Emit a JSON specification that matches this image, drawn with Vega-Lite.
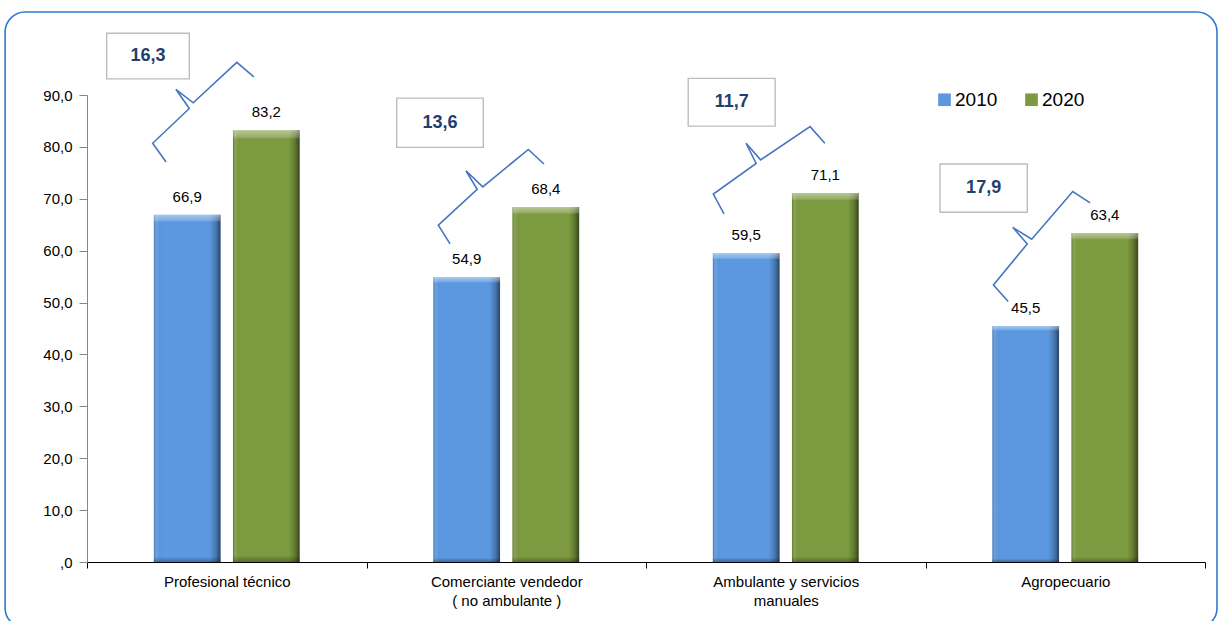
{
  "$schema": "https://vega.github.io/schema/vega-lite/v6.json",
  "width": 1118,
  "height": 467,
  "autosize": {"type": "none"},
  "padding": {"left": 87, "top": 95, "right": 14, "bottom": 59},
  "background": "white",
  "config": {
    "font": "Liberation Sans",
    "view": {"stroke": null},
    "locale": {"number": {"decimal": ",", "thousands": ".", "grouping": [3], "currency": ["", " €"]}},
    "axis": {"labelFont": "Liberation Sans", "labelColor": "#000000", "grid": false}
  },
  "datasets": {
    "bars": [
      {"cat": "Profesional técnico", "year": "2010", "v": 66.9},
      {"cat": "Profesional técnico", "year": "2020", "v": 83.2},
      {"cat": "Comerciante vendedor ( no ambulante )", "year": "2010", "v": 54.9},
      {"cat": "Comerciante vendedor ( no ambulante )", "year": "2020", "v": 68.4},
      {"cat": "Ambulante y servicios manuales", "year": "2010", "v": 59.5},
      {"cat": "Ambulante y servicios manuales", "year": "2020", "v": 71.1},
      {"cat": "Agropecuario", "year": "2010", "v": 45.5},
      {"cat": "Agropecuario", "year": "2020", "v": 63.4}
    ],
    "frame": [
      {"x0": -0.293, "x1": 4.043, "y0": -12.7, "y1": 106.0}
    ],
    "boxes": [
      {"x0": 0.0705, "x1": 0.366, "y0": 93.1, "y1": 101.9, "xc": 0.218, "yc": 97.5, "diff": 16.3},
      {"x0": 1.108, "x1": 1.418, "y0": 79.9, "y1": 89.4, "xc": 1.263, "yc": 84.65, "diff": 13.6},
      {"x0": 2.151, "x1": 2.462, "y0": 84.0, "y1": 93.2, "xc": 2.3065, "yc": 88.6, "diff": 11.7},
      {"x0": 3.052, "x1": 3.364, "y0": 67.4, "y1": 76.7, "xc": 3.208, "yc": 72.05, "diff": 17.9}
    ],
    "braces": [
      {"brace": 1, "ord": 1, "bx": 0.283, "by": 77.1},
      {"brace": 1, "ord": 2, "bx": 0.235, "by": 80.7},
      {"brace": 1, "ord": 3, "bx": 0.366, "by": 87.4},
      {"brace": 1, "ord": 4, "bx": 0.318, "by": 91.1},
      {"brace": 1, "ord": 5, "bx": 0.380, "by": 88.5},
      {"brace": 1, "ord": 6, "bx": 0.536, "by": 96.3},
      {"brace": 1, "ord": 7, "bx": 0.597, "by": 93.5},
      {"brace": 2, "ord": 1, "bx": 1.299, "by": 61.3},
      {"brace": 2, "ord": 2, "bx": 1.257, "by": 64.9},
      {"brace": 2, "ord": 3, "bx": 1.396, "by": 71.8},
      {"brace": 2, "ord": 4, "bx": 1.356, "by": 75.4},
      {"brace": 2, "ord": 5, "bx": 1.416, "by": 72.3},
      {"brace": 2, "ord": 6, "bx": 1.579, "by": 79.5},
      {"brace": 2, "ord": 7, "bx": 1.635, "by": 76.7},
      {"brace": 3, "ord": 1, "bx": 2.279, "by": 67.1},
      {"brace": 3, "ord": 2, "bx": 2.241, "by": 70.9},
      {"brace": 3, "ord": 3, "bx": 2.394, "by": 76.8},
      {"brace": 3, "ord": 4, "bx": 2.358, "by": 80.7},
      {"brace": 3, "ord": 5, "bx": 2.410, "by": 77.5},
      {"brace": 3, "ord": 6, "bx": 2.587, "by": 83.9},
      {"brace": 3, "ord": 7, "bx": 2.640, "by": 80.7},
      {"brace": 4, "ord": 1, "bx": 3.296, "by": 50.2},
      {"brace": 4, "ord": 2, "bx": 3.243, "by": 53.4},
      {"brace": 4, "ord": 3, "bx": 3.364, "by": 61.3},
      {"brace": 4, "ord": 4, "bx": 3.312, "by": 64.5},
      {"brace": 4, "ord": 5, "bx": 3.380, "by": 62.2},
      {"brace": 4, "ord": 6, "bx": 3.527, "by": 71.4},
      {"brace": 4, "ord": 7, "bx": 3.589, "by": 69.2}
    ]
  },
  "layer": [
    {
      "data": {"name": "bars"},
      "encoding": {
        "x": {
          "field": "cat", "type": "nominal", "sort": null,
          "scale": {"paddingInner": 0, "paddingOuter": 0},
          "axis": {
            "title": null, "domainColor": "#000000", "tickColor": "#000000", "tickSize": 6,
            "tickBand": "extent", "labelFontSize": 15, "labelPadding": 6, "labelAngle": 0,
            "labelLineHeight": 19,
            "labelExpr": "datum.value == 'Comerciante vendedor ( no ambulante )' ? ['Comerciante vendedor', '( no ambulante )'] : datum.value == 'Ambulante y servicios manuales' ? ['Ambulante y servicios', 'manuales'] : datum.label"
          }
        },
        "xOffset": {"field": "year", "type": "nominal", "scale": {"paddingInner": 0.157, "paddingOuter": 0.845}},
        "y": {
          "field": "v", "type": "quantitative",
          "scale": {"domain": [0, 90], "nice": false},
          "axis": {
            "title": null, "values": [0, 10, 20, 30, 40, 50, 60, 70, 80, 90], "format": ".1f",
            "labelExpr": "datum.value == 0 ? ',0' : datum.label",
            "domainColor": "#868686", "tickColor": "#868686", "tickSize": 8, "labelPadding": 7,
            "labelFontSize": 15
          }
        }
      },
      "layer": [
        {
          "mark": {"type": "bar"},
          "encoding": {
            "color": {
              "field": "year", "type": "nominal",
              "scale": {"domain": ["2010", "2020"], "range": ["#5b98e0", "#7c9a3f"]},
              "legend": {
                "title": null, "orient": "none", "legendX": 848, "legendY": -5,
                "direction": "horizontal", "symbolType": "square", "symbolSize": 160,
                "labelFontSize": 19, "labelFont": "Liberation Sans", "labelColor": "#000000",
                "columnPadding": 24, "labelOffset": 1, "symbolStrokeWidth": 0
              }
            }
          }
        },
        {
          "mark": {
            "type": "bar",
            "color": {
              "gradient": "linear", "x1": 0, "y1": 0, "x2": 1, "y2": 0,
              "stops": [
                {"offset": 0, "color": "rgba(0,0,0,0.22)"},
                {"offset": 0.04, "color": "rgba(255,255,255,0.10)"},
                {"offset": 0.12, "color": "rgba(0,0,0,0)"},
                {"offset": 0.84, "color": "rgba(0,0,0,0)"},
                {"offset": 0.93, "color": "rgba(0,0,0,0.22)"},
                {"offset": 1, "color": "rgba(0,0,0,0.55)"}
              ]
            }
          }
        },
        {
          "mark": {
            "type": "bar",
            "color": {
              "gradient": "linear", "x1": 0, "y1": 0, "x2": 0, "y2": 1,
              "stops": [
                {"offset": 0, "color": "rgba(255,255,255,0.45)"},
                {"offset": 0.016, "color": "rgba(255,255,255,0.2)"},
                {"offset": 0.02, "color": "rgba(255,255,255,0)"},
                {"offset": 0.985, "color": "rgba(0,0,0,0)"},
                {"offset": 1, "color": "rgba(0,0,0,0.3)"}
              ]
            }
          }
        },
        {
          "mark": {"type": "text", "fontSize": 15, "baseline": "alphabetic", "dy": -13, "color": "#000000", "font": "Liberation Sans"},
          "encoding": {"text": {"field": "v", "type": "quantitative", "format": ".1f"}}
        }
      ]
    },
    {
      "layer": [
        {
          "data": {"name": "frame"},
          "mark": {"type": "rect", "fillOpacity": 0, "fill": "white", "stroke": "#2e7bcf", "strokeWidth": 1.6, "cornerRadius": 20},
          "encoding": {
            "x": {"field": "x0", "type": "quantitative", "scale": {"domain": [0, 4], "nice": false, "zero": false}, "axis": null},
            "x2": {"field": "x1"},
            "y": {"field": "y0", "type": "quantitative", "scale": {"domain": [0, 90], "nice": false}},
            "y2": {"field": "y1"}
          }
        },
        {
          "data": {"name": "boxes"},
          "mark": {"type": "rect", "fill": "white", "stroke": "#bdbdbd", "strokeWidth": 1.4},
          "encoding": {
            "x": {"field": "x0", "type": "quantitative", "scale": {"domain": [0, 4], "nice": false, "zero": false}, "axis": null},
            "x2": {"field": "x1"},
            "y": {"field": "y0", "type": "quantitative", "scale": {"domain": [0, 90], "nice": false}},
            "y2": {"field": "y1"}
          }
        },
        {
          "data": {"name": "boxes"},
          "mark": {"type": "text", "fontSize": 18, "fontWeight": "bold", "color": "#1f3f6f", "align": "center", "baseline": "middle", "font": "Liberation Sans"},
          "encoding": {
            "x": {"field": "xc", "type": "quantitative", "scale": {"domain": [0, 4], "nice": false, "zero": false}, "axis": null},
            "y": {"field": "yc", "type": "quantitative", "scale": {"domain": [0, 90], "nice": false}},
            "text": {"field": "diff", "type": "quantitative", "format": ".1f"}
          }
        },
        {
          "data": {"name": "braces"},
          "mark": {"type": "line", "color": "#4476c2", "strokeWidth": 1.6},
          "encoding": {
            "x": {"field": "bx", "type": "quantitative", "scale": {"domain": [0, 4], "nice": false, "zero": false}, "axis": null},
            "y": {"field": "by", "type": "quantitative", "scale": {"domain": [0, 90], "nice": false}},
            "detail": {"field": "brace", "type": "nominal"},
            "order": {"field": "ord", "type": "quantitative"}
          }
        }
      ]
    }
  ],
  "resolve": {"scale": {"x": "independent"}}
}
